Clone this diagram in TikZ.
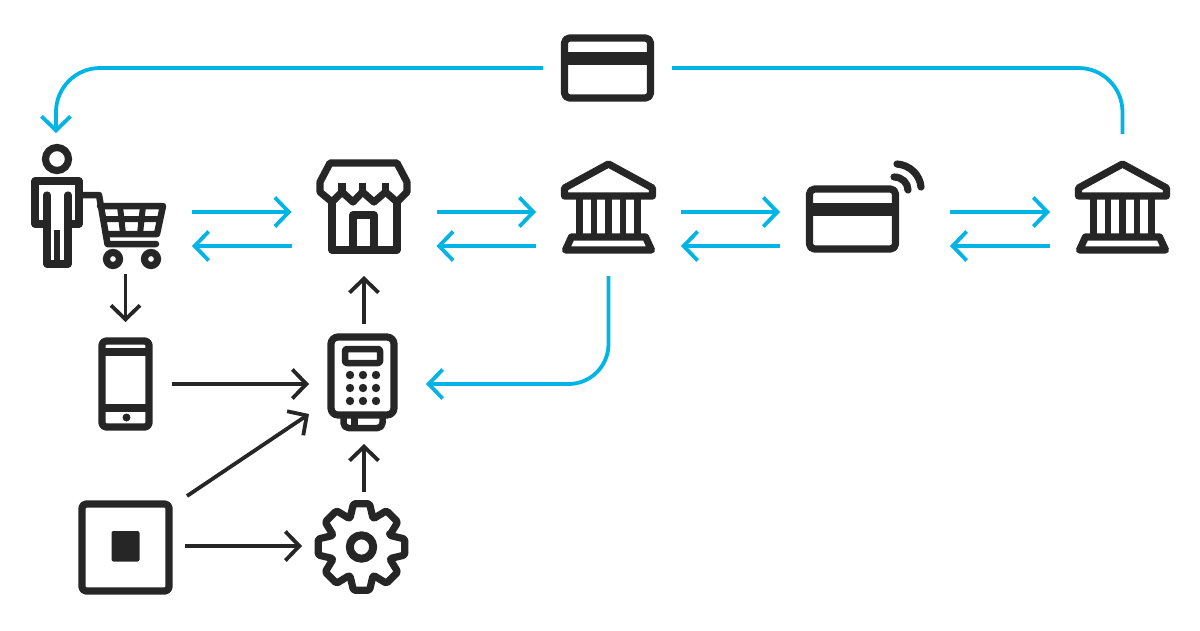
\documentclass[tikz,border=0pt]{standalone}
\usetikzlibrary{arrows.meta}
\definecolor{iconDark}{HTML}{262626}
\definecolor{flowBlue}{HTML}{00B5E6}
\begin{document}
\begin{tikzpicture}[x=1pt, y=-1pt,
    spotStyle/.style={rectangle, inner sep=0pt, outer sep=0pt},
    iconStyle/.style={draw=iconDark, line width=7.2pt, line join=round, line cap=round},
    blackStyle/.style={draw=iconDark, line width=3.8pt, -{Straight Barb[length=14pt, width=29pt, line width=3.8pt]}},
    blueStyle/.style={draw=flowBlue, line width=3.8pt, -{Straight Barb[length=14pt, width=29pt, line width=3.8pt]}},
    bankIcon/.pic={
        \draw[iconStyle] (0,-65) -- (-44,-41) -- (-44,-33) -- (44,-33) -- (44,-41) -- cycle;
        \foreach \colX in {-29,-14.5,0,14.5,29}
            \draw[iconStyle, line width=6.5pt, line cap=butt] (\colX,-33) -- (\colX,7);
        \draw[iconStyle] (-37,8) -- (37,8) -- (43,21) -- (-43,21) -- cycle;
    },
    cardIcon/.pic={
        \draw[iconStyle, rounded corners=5pt] (-43,-30) rectangle (43,30);
        \fill[iconDark] (-43,-16) rectangle (43,-3);
    }]
    \useasboundingbox (0,0) rectangle (1200,630);

    \node[spotStyle, minimum width=129pt, minimum height=64pt] (cardTop) at (607.5,68) {};
    \node[spotStyle, minimum width=60pt, minimum height=192pt] (person) at (56,229) {};
    \node[spotStyle, minimum width=133pt, minimum height=90pt] (cart) at (125.5,229) {};
    \node[spotStyle, minimum width=145pt, minimum height=94pt] (shop) at (364,229) {};
    \node[spotStyle, minimum width=145pt, minimum height=94pt] (bankNear) at (608.5,229) {};
    \node[spotStyle, minimum width=170pt, minimum height=94pt] (cardWave) at (865,229) {};
    \node[spotStyle, minimum width=145pt, minimum height=190pt] (bankFar) at (1122.5,229) {};
    \node[spotStyle, minimum width=93pt, minimum height=124pt] (phone) at (125.5,384) {};
    \node[spotStyle, minimum width=110pt, minimum height=120pt] (terminal) at (364,384) {};
    \node[spotStyle, minimum width=124pt, minimum height=100pt] (chip) at (125,546) {};
    \node[spotStyle, minimum width=124pt, minimum height=108pt] (gear) at (364,546) {};

    % person and cart
    \draw[iconStyle] (57,159) circle (11.5);
    \draw[iconStyle] (47,195) -- (47,264) -- (68,264) -- (68,195);
    \draw[iconStyle] (47,224) -- (35,224) -- (35,181) -- (79,181) -- (79,224) -- (68,224);
    \draw[iconStyle, line width=6.5pt, line cap=butt] (57,230) -- (57,264);
    \draw[iconStyle, line width=6.5pt] (82,195) -- (99,195) -- (107.5,244) -- (156,244);
    \draw[iconStyle, line width=6.5pt] (100,206) -- (163,206) -- (157,234) -- (106,234);
    \draw[iconStyle, line width=6pt, line cap=butt] (103,219) -- (160,219) (120,206) -- (123,234) (143,206) -- (140,234);
    \draw[iconStyle] (113,259) circle (6.5) (151,259) circle (6.5);

    % shop
    \draw[iconStyle] (330,163) -- (320,182) -- (320,192) -- (332,202) -- (342,192) -- (353,202) -- (362.5,192) -- (374,202) -- (385.5,192) -- (397,202) -- (407,192) -- (407,182) -- (397,163) -- cycle;
    \draw[iconStyle, line cap=butt] (342,183) -- (342,192) (362.5,183) -- (362.5,192) (385.5,183) -- (385.5,192);
    \draw[iconStyle] (332,202) -- (332,250) -- (397,250) -- (397,202);
    \draw[iconStyle] (353,250) -- (353,215) -- (374,215) -- (374,250);

    \pic at (bankNear) {bankIcon};
    \pic at (bankFar) {bankIcon};
    \pic at (cardTop) {cardIcon};
    \pic at (852.5,219) {cardIcon};

    % waves
    \draw[iconStyle] (894,177) .. controls (902,177) and (908,183) .. (908,190);
    \draw[iconStyle] (897,164) .. controls (910,165) and (920,175) .. (921,187);

    % phone
    \draw[iconStyle, rounded corners=4pt] (102,341) rectangle (149,427);
    \draw[iconStyle, line cap=butt] (102,352) -- (149,352) (102,408) -- (149,408);
    \fill[iconDark] (126.5,417.5) circle (4);

    % terminal
    \draw[iconStyle, rounded corners=7pt] (331,337) rectangle (394,415);
    \draw[iconStyle, line width=6.5pt, rounded corners=2pt] (345,349) rectangle (380,363);
    \foreach \dotY in {375,388,401}
        \foreach \dotX in {350,363,376}
            \fill[iconDark] (\dotX,\dotY) circle (4.2);
    \draw[iconStyle, line width=6.5pt, rounded corners=5pt] (343.5,415) -- (343.5,428) -- (382.5,428) -- (382.5,415);
    \draw[iconStyle, line width=6.5pt, line cap=butt] (354.5,418) -- (354.5,428);

    % chip
    \draw[iconStyle, rounded corners=4pt] (82,504) rectangle (169,591);
    \fill[iconDark, rounded corners=2pt] (111.5,531) rectangle (139.5,561.5);

    % gear
    \draw[iconStyle, rounded corners=1.5pt, shift={(361.5,547)}] (-22.5:30.5)
        \foreach \toothA in {0,45,...,315} {
            -- ({\toothA-22.5}:30.5) -- ({\toothA-10.5}:44) -- ({\toothA+10.5}:44)
        } -- cycle;
    \draw[iconStyle, line width=8pt] (361.5,547) circle (11.7);

    % arrows
    \draw[blueStyle, rounded corners=44pt] (cardTop.west) -| (person.north);
    \draw[draw=flowBlue, line width=3.8pt, rounded corners=44pt] (cardTop.east) -| (bankFar.north);
    \draw[blueStyle] ([yshift=17pt]cart.east) -- ([yshift=17pt]shop.west);
    \draw[blueStyle] ([yshift=-17pt]shop.west) -- ([yshift=-17pt]cart.east);
    \draw[blueStyle] ([yshift=17pt]shop.east) -- ([yshift=17pt]bankNear.west);
    \draw[blueStyle] ([yshift=-17pt]bankNear.west) -- ([yshift=-17pt]shop.east);
    \draw[blueStyle] ([yshift=17pt]bankNear.east) -- ([yshift=17pt]cardWave.west);
    \draw[blueStyle] ([yshift=-17pt]cardWave.west) -- ([yshift=-17pt]bankNear.east);
    \draw[blueStyle] ([yshift=17pt]cardWave.east) -- ([yshift=17pt]bankFar.west);
    \draw[blueStyle] ([yshift=-17pt]bankFar.west) -- ([yshift=-17pt]cardWave.east);
    \draw[blueStyle, rounded corners=40pt] (bankNear.south) |- ([xshift=7pt]terminal.east);
    \draw[blackStyle] (cart.south) -- (phone.north);
    \draw[blackStyle] (phone.east) -- (terminal.west);
    \draw[blackStyle] (terminal.north) -- (shop.south);
    \draw[blackStyle] (gear.north) -- (terminal.south);
    \draw[blackStyle] (chip.north east) -- ([yshift=-30pt]terminal.west);
    \draw[blackStyle] ([xshift=-2pt]chip.east) -- (gear.west);
\end{tikzpicture}
\end{document}
